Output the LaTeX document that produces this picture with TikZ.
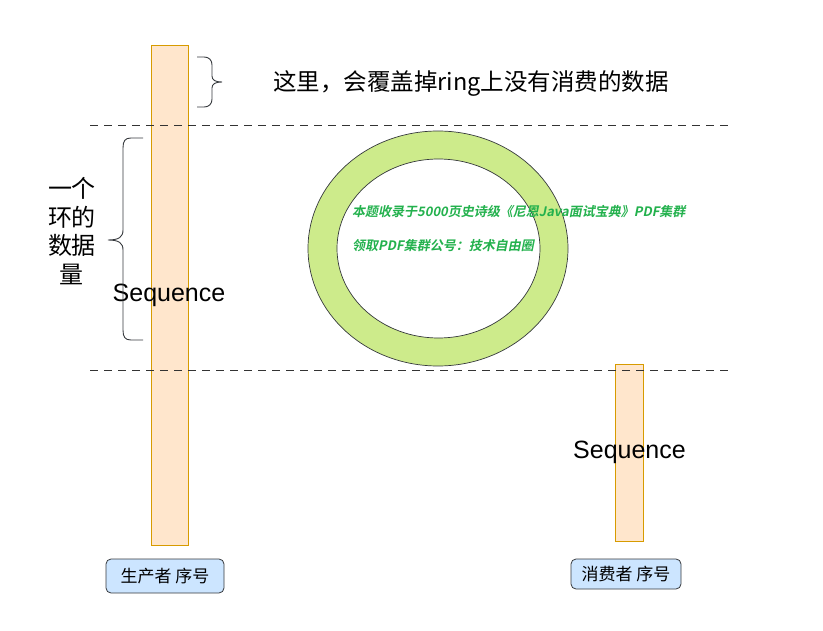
\documentclass[tikz,border=0pt]{standalone}
\usepackage{fontspec}
\setmainfont{Liberation Sans}
\newfontfamily\cjk{Noto Sans CJK SC}
\newfontfamily\cjkgreen[FakeSlant=0.2]{Noto Sans CJK SC Bold}
\usetikzlibrary{positioning}
\definecolor{barfill}{HTML}{FFE6CC}
\definecolor{barline}{HTML}{D79B00}
\definecolor{ringfill}{HTML}{CDEB8B}
\definecolor{edge}{HTML}{36393D}
\definecolor{lblfill}{HTML}{CCE5FF}
\definecolor{note}{HTML}{23B14D}

\begin{document}
\begin{tikzpicture}[x=1pt, y=-1pt,
  bar/.style={draw=barline, fill=barfill, line width=0.9pt, inner sep=0pt},
  seq/.style={font=\fontsize{25}{28}\selectfont, inner sep=0pt},
  lbl/.style={draw=edge, fill=lblfill, rounded corners=5pt, line width=0.8pt, inner sep=0pt, font=\cjk\fontsize{17}{20}\selectfont},
  sep/.style={draw=black!80, dash pattern=on 8pt off 6pt, line width=0.8pt},
  brc/.style={draw=edge, line width=0.9pt},
  notetext/.style={anchor=west, inner sep=0pt, text=note, font=\cjkgreen\fontsize{13}{15}\selectfont}]
\useasboundingbox (0,0) rectangle (823,631);
% producer and consumer bars
\node[bar, minimum width=37pt, minimum height=500pt] (prodbar) at (169.5,295) {};
\node[bar, minimum width=28pt, minimum height=177pt] (consbar) at (629,452.5) {};
\node[seq] (prodseq) at (169,295) {Sequence};
\node[seq] (consseq) at (629.5,452) {Sequence};
% separators
\draw[sep] (90,125) -- (730,125);
\draw[sep] (90,370) -- (730,370);
% braces
\draw[brc] (197,57) -- (204,57) .. controls (209,57) and (212,60) .. (212,65) -- (212,76)
  .. controls (212,80) and (215,82) .. (222,82) .. controls (215,82) and (212,84) .. (212,88)
  -- (212,99) .. controls (212,104) and (209,107) .. (204,107) -- (197,107);
\draw[brc] (143,138) -- (131,138) .. controls (125,138) and (123,141) .. (123,148) -- (123,230)
  .. controls (123,237) and (119,240) .. (108,240) .. controls (119,240) and (123,243) .. (123,250)
  -- (123,330) .. controls (123,337) and (125,340) .. (131,340) -- (143,340);
\node[font=\cjk\fontsize{23.5}{28}\selectfont, inner sep=0pt] (overwrite) at (471,83) {这里，会覆盖掉ring上没有消费的数据};
\node[font=\cjk\fontsize{24}{28.5}\selectfont, align=center, inner sep=0pt] (ringsize) at (72,231) {一个\\环的\\数据\\量};
% ring
\path[fill=ringfill, even odd rule] (438,248.5) ellipse [x radius=130, y radius=117.5]
  (438.5,248.5) ellipse [x radius=101.5, y radius=89.5];
\draw[edge, line width=0.7pt] (438,248.5) ellipse [x radius=130, y radius=117.5];
\draw[edge, line width=0.7pt] (438.5,248.5) ellipse [x radius=101.5, y radius=89.5];
\node[notetext] (note1) at (352,212) {本题收录于5000页史诗级《尼恩Java面试宝典》PDF集群};
\node[notetext] (note2) at (352,246) {领取PDF集群公号：技术自由圈};
% labels
\node[lbl, minimum width=118pt, minimum height=34pt] (prodlbl) at (165,576) {生产者 序号};
\node[lbl, minimum width=110pt, minimum height=30pt] (conslbl) at (626,574) {消费者 序号};
\end{tikzpicture}
\end{document}
